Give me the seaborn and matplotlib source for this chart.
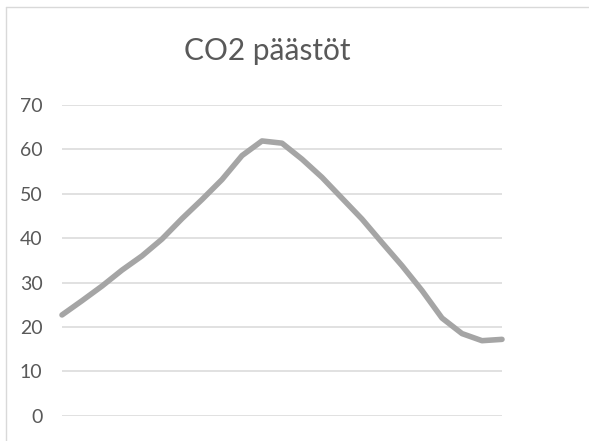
import matplotlib
matplotlib.use("Agg")
import matplotlib.pyplot as plt
import seaborn as sns
import pandas as pd
from matplotlib.lines import Line2D

# Data (no x labels shown, evenly spaced steps)
steps = list(range(23))
emissions = [22.7, 25.9, 29.2, 32.8, 36.0, 39.8, 44.4, 48.7, 53.2, 58.6, 61.9, 61.4,
             57.8, 53.7, 49.0, 44.3, 39.0, 33.8, 28.2, 22.0, 18.5, 16.9, 17.2]
yticks = [0, 10, 20, 30, 40, 50, 60, 70]
title = "CO2 päästöt"

df = pd.DataFrame({"step": steps, "co2": emissions})

sns.set_style("white")
plt.rcParams['font.family'] = ['Lato', 'DejaVu Sans']

W, H = 589, 441
fig = plt.figure(figsize=(W / 100, H / 100), dpi=100)
ax = fig.add_axes([62 / W, 25.3 / H, (502 - 62) / W, (415.7 - 105) / H])

sns.lineplot(data=df, x="step", y="co2", ax=ax, color="#A5A5A5", linewidth=4,
             solid_capstyle="round", solid_joinstyle="round", clip_on=False)

ax.set_xlim(steps[0], steps[-1])
ax.set_ylim(0, 70)
ax.set_yticks(yticks)
ax.set_xticks([])
ax.set_xlabel("")
ax.set_ylabel("")
ax.yaxis.grid(True, color="#D9D9D9", linewidth=1.1)
ax.set_axisbelow(True)
for s in ax.spines.values():
    s.set_visible(False)
ax.tick_params(axis="y", length=0, pad=14, labelsize=14, labelcolor="#595959")

fig.text(267 / W, 1 - 51 / H, title, ha="center", va="center", fontsize=21.5, color="#595959")

# chart frame (left and top edges only, the rest is cut off)
fx, fy = 5.5 / W, 1 - 7 / H
fig.lines.append(Line2D([fx, fx], [0, fy], transform=fig.transFigure, color="#D9D9D9", linewidth=1))
fig.lines.append(Line2D([fx, 1], [fy, fy], transform=fig.transFigure, color="#D9D9D9", linewidth=1))

fig.savefig("out.png", dpi=100)
